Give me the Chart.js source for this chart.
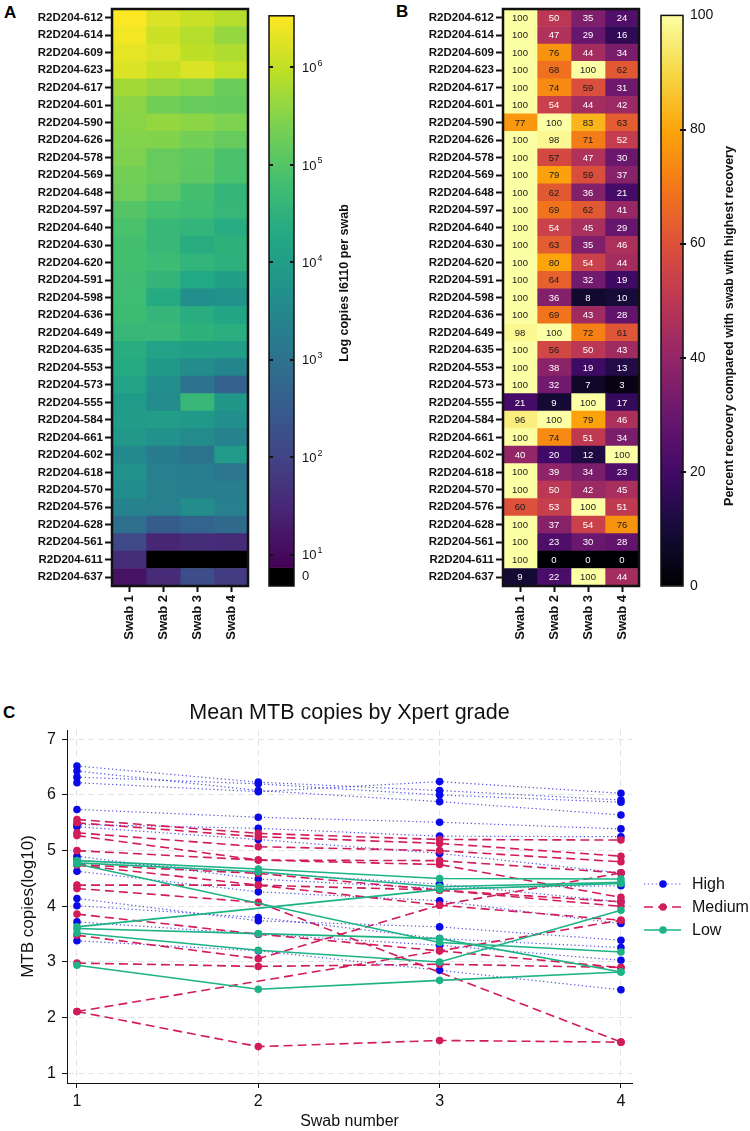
<!DOCTYPE html>
<html>
<head>
<meta charset="utf-8">
<script src="https://cdn.jsdelivr.net/npm/chart.js@4.4.1/dist/chart.umd.min.js"></script>
<style>
  body { margin: 0; background: #fff; font-family: "Liberation Sans", Arial, sans-serif; }
  #page { position: relative; width: 750px; height: 1131px; overflow: hidden; }
  .box { position: absolute; }
  .tag { position: absolute; font-weight: bold; font-size: 17px; color: #000; line-height: 20px; }
</style>
</head>
<body>
<div id="page">
  <div class="tag" style="left:4px;top:3px">A</div>
  <div class="tag" style="left:396px;top:2px">B</div>
  <div class="tag" style="left:3px;top:703px">C</div>
  <div class="box" style="left:0;top:0;width:255px;height:655px"><canvas id="heatA"></canvas></div>
  <div class="box" style="left:255px;top:0;width:115px;height:655px"><canvas id="barA"></canvas></div>
  <div class="box" style="left:370px;top:0;width:275px;height:655px"><canvas id="heatB"></canvas></div>
  <div class="box" style="left:645px;top:0;width:105px;height:655px"><canvas id="barB"></canvas></div>
  <div class="box" style="left:0;top:660px;width:750px;height:471px"><canvas id="lineC"></canvas></div>
</div>
<script>
// ---- data: panels A and B (one entry per participant, top to bottom) ----
const rowLabels = ['R2D204-612', 'R2D204-614', 'R2D204-609', 'R2D204-623', 'R2D204-617', 'R2D204-601',
  'R2D204-590', 'R2D204-626', 'R2D204-578', 'R2D204-569', 'R2D204-648', 'R2D204-597', 'R2D204-640',
  'R2D204-630', 'R2D204-620', 'R2D204-591', 'R2D204-598', 'R2D204-636', 'R2D204-649', 'R2D204-635',
  'R2D204-553', 'R2D204-573', 'R2D204-555', 'R2D204-584', 'R2D204-661', 'R2D204-602', 'R2D204-618',
  'R2D204-570', 'R2D204-576', 'R2D204-628', 'R2D204-561', 'R2D204-611', 'R2D204-637'];
const swabLabels = ['Swab 1', 'Swab 2', 'Swab 3', 'Swab 4'];

// log10 copies per swab (0 = nothing detected)
const swab1Log = [6.52, 6.43, 6.32, 6.22, 5.74, 5.56, 5.51, 5.47, 5.43, 5.32, 5.27, 5.00, 4.90, 4.83, 4.82, 4.76, 4.75,
  4.74, 4.62, 4.38, 4.32, 4.14, 3.94, 3.98, 3.86, 3.53, 3.72, 3.63, 3.38, 2.94, 2.11, 1.60, 1.15];
const swab2Log = [6.22, 6.10, 6.20, 6.05, 5.61, 5.29, 5.62, 5.46, 5.19, 5.22, 5.06, 4.84, 4.63, 4.63, 4.72, 4.57, 4.31,
  4.58, 4.63, 4.13, 3.90, 3.65, 3.57, 4.00, 3.73, 3.23, 3.31, 3.33, 3.32, 2.51, 1.47, 0, 1.54];
const swab3Log = [6.06, 5.89, 5.96, 6.22, 5.51, 5.20, 5.54, 5.32, 5.10, 5.09, 4.83, 4.79, 4.55, 4.37, 4.55, 4.27, 3.65,
  4.37, 4.49, 4.08, 3.60, 2.99, 4.62, 3.90, 3.57, 3.01, 3.25, 3.25, 3.60, 2.67, 1.59, 0, 2.20];
const swab4Log = [5.90, 5.63, 5.85, 6.01, 5.23, 5.18, 5.42, 5.19, 4.91, 4.89, 4.59, 4.61, 4.36, 4.49, 4.46, 4.04, 3.75,
  4.19, 4.42, 4.01, 3.43, 2.62, 3.85, 3.66, 3.39, 3.93, 3.08, 3.28, 3.31, 2.82, 1.56, 0, 1.84];

// percent recovery vs best swab
const swab1Pct = [100, 100, 100, 100, 100, 100, 77, 100, 100, 100, 100, 100, 100, 100, 100, 100, 100, 100, 98, 100,
  100, 100, 21, 96, 100, 40, 100, 100, 60, 100, 100, 100, 9];
const swab2Pct = [50, 47, 76, 68, 74, 54, 100, 98, 57, 79, 62, 69, 54, 63, 80, 64, 36, 69, 100, 56,
  38, 32, 9, 100, 74, 20, 39, 50, 53, 37, 23, 0, 22];
const swab3Pct = [35, 29, 44, 100, 59, 44, 83, 71, 47, 59, 36, 62, 45, 35, 54, 32, 8, 43, 72, 50,
  19, 7, 100, 79, 51, 12, 34, 42, 100, 54, 30, 0, 100];
const swab4Pct = [24, 16, 34, 62, 31, 42, 63, 52, 30, 37, 21, 41, 29, 46, 44, 19, 10, 28, 61, 43,
  13, 3, 17, 46, 34, 100, 23, 45, 51, 76, 28, 0, 44];

// colour bar ticks
const logTicks = [1, 2, 3, 4, 5, 6];
const pctTicks = [0, 20, 40, 60, 80, 100];

// ---- data: panel C (log10 copies at swabs 1-4, one line per participant) ----
const swabNumbers = [1, 2, 3, 4];
const copyTicks = [1, 2, 3, 4, 5, 6, 7];
const highLines = [
  [6.52, 6.23, 6.08, 5.91], [6.43, 6.08, 5.88, 5.64], [6.32, 6.20, 6.00, 5.87], [6.22, 6.06, 6.24, 6.03],
  [5.74, 5.60, 5.51, 5.39], [5.47, 5.40, 5.26, 5.25], [5.43, 5.20, 4.95, 4.60], [4.90, 4.49, 4.32, 4.37],
  [4.83, 4.60, 4.40, 4.08], [4.63, 4.26, 4.10, 3.69], [4.14, 3.74, 3.63, 3.39], [4.01, 3.80, 3.42, 3.26],
  [3.72, 3.50, 3.30, 3.03], [3.38, 3.20, 2.85, 2.50]
];
const mediumLines = [
  [5.56, 5.31, 5.20, 5.19], [5.50, 5.25, 5.13, 4.90], [5.32, 5.07, 5.00, 4.80], [5.27, 4.83, 4.82, 4.60],
  [5.00, 4.83, 4.75, 4.16], [4.75, 4.59, 4.29, 4.08], [4.74, 4.38, 4.02, 3.75], [4.38, 4.38, 4.29, 4.00],
  [4.32, 4.07, null, 1.56], [3.86, 3.50, 3.20, 2.90], [3.48, 3.06, 4.02, 4.60], [2.98, 2.92, 2.96, 2.90],
  [2.11, 1.48, 1.59, 1.56], [2.11, null, 3.20, 3.75]
];
const lowLines = [
  [4.82, 4.67, 4.50, 4.49], [4.78, 4.62, 4.35, 4.43], [4.76, null, 3.35, 3.18], [3.63, null, 4.30, 4.41],
  [3.60, 3.51, 3.42, 2.82], [3.52, 3.21, 3.00, 3.93], [2.94, 2.51, 2.67, 2.82]
];

// ---- colour maps ----
const viridis = ['#440154', '#482475', '#414487', '#355f8d', '#2a788e', '#21918c', '#22a884', '#44bf70', '#7ad151', '#bddf26', '#fde725'];
const inferno = ['#000004', '#160b39', '#420a68', '#6a176e', '#932667', '#bc3754', '#dd513a', '#f37819', '#fca50a', '#f6d746', '#fcffa4'];
const LOG_MIN = 0.87, LOG_MAX = 6.53; // ends of the viridis bar

function hexRgb(h) {
  return [parseInt(h.slice(1, 3), 16), parseInt(h.slice(3, 5), 16), parseInt(h.slice(5, 7), 16)];
}
function mapColor(stops, t) {
  t = Math.max(0, Math.min(1, t));
  const n = stops.length - 1;
  const p = t * n;
  const i = Math.min(Math.floor(p), n - 1);
  const f = p - i;
  const a = hexRgb(stops[i]), b = hexRgb(stops[i + 1]);
  return 'rgb(' + a.map((c, k) => Math.round(c + (b[k] - c) * f)).join(',') + ')';
}
const logColor = v => v <= 0 ? '#000' : mapColor(viridis, (v - LOG_MIN) / (LOG_MAX - LOG_MIN));
const pctColor = v => mapColor(inferno, v / 100);

const FONT = '"Liberation Sans", Arial, Helvetica, sans-serif';
Chart.defaults.font.family = FONT;
Chart.defaults.color = '#111';
Chart.defaults.animation = false;

// black frame round the plot area
const framePlugin = {
  id: 'frame',
  afterDraw(chart, args, opts) {
    const { ctx, chartArea: a } = chart;
    ctx.save();
    ctx.strokeStyle = '#111';
    ctx.lineWidth = opts.width || 2.5;
    ctx.strokeRect(a.left, a.top, a.right - a.left, a.bottom - a.top);
    ctx.restore();
  }
};

function rotatedText(ctx, text, x, y, font) {
  ctx.save();
  ctx.translate(x, y);
  ctx.rotate(-Math.PI / 2);
  ctx.font = font;
  ctx.fillStyle = '#111';
  ctx.textAlign = 'center';
  ctx.textBaseline = 'middle';
  ctx.fillText(text, 0, 0);
  ctx.restore();
}

// ---- heatmaps (floating horizontal bars, one dataset per swab) ----
function heatChart(id, colors, yWidth, padRight, extraPlugins) {
  return new Chart(document.getElementById(id), {
    type: 'bar',
    data: {
      labels: rowLabels,
      datasets: swabLabels.map((s, i) => ({
        label: s,
        data: rowLabels.map(() => [i, i + 1]),
        backgroundColor: colors[i],
        borderWidth: 0,
        barPercentage: 1,
        categoryPercentage: 1,
        grouped: false
      }))
    },
    options: {
      indexAxis: 'y',
      responsive: true,
      maintainAspectRatio: false,
      layout: { padding: { top: 9, right: padRight, left: 0, bottom: 0 } },
      plugins: { legend: { display: false }, tooltip: { enabled: false }, frame: { width: 2.5 } },
      scales: {
        x: {
          type: 'linear', min: 0, max: 4,
          afterBuildTicks: s => { s.ticks = [0.5, 1.5, 2.5, 3.5].map(v => ({ value: v })); },
          ticks: { callback: (v, i) => swabLabels[i], minRotation: 90, maxRotation: 90, padding: 3,
            font: { size: 13, weight: 'bold' }, color: '#111' },
          grid: { drawOnChartArea: false, tickLength: 6, tickWidth: 2, tickColor: '#111' },
          border: { display: false },
          afterFit: s => { s.height = 69; }
        },
        y: {
          ticks: { font: { size: 11.5, weight: 'bold' }, color: '#111', padding: 2, autoSkip: false },
          grid: { drawOnChartArea: false, offset: false, tickLength: 7, tickWidth: 2, tickColor: '#111' },
          border: { display: false },
          afterFit: s => { s.width = yWidth; }
        }
      }
    },
    plugins: [framePlugin].concat(extraPlugins || [])
  });
}

heatChart('heatA', [swab1Log, swab2Log, swab3Log, swab4Log].map(a => a.map(logColor)), 112, 7);

const pctTable = [swab1Pct, swab2Pct, swab3Pct, swab4Pct];
const cellText = {
  id: 'cellText',
  afterDatasetsDraw(chart) {
    const ctx = chart.ctx;
    ctx.save();
    ctx.font = '9.5px ' + FONT;
    ctx.textAlign = 'center';
    ctx.textBaseline = 'middle';
    pctTable.forEach((col, i) => {
      chart.getDatasetMeta(i).data.forEach((bar, r) => {
        ctx.fillStyle = col[r] >= 55 ? '#1a1a1a' : '#ffffff';
        ctx.fillText(String(col[r]), (bar.x + bar.base) / 2, bar.y + 0.5);
      });
    });
    ctx.restore();
  }
};
heatChart('heatB', pctTable.map(a => a.map(pctColor)), 133, 6, [cellText]);

// ---- colour bars ----
function gradientFill(stops, from, to) {
  return ctx => {
    const chart = ctx.chart;
    const y = chart.scales.y;
    if (!chart.chartArea || !y) return stops[stops.length - 1];
    const g = chart.ctx.createLinearGradient(0, y.getPixelForValue(from), 0, y.getPixelForValue(to));
    stops.forEach((c, i) => g.addColorStop(i / (stops.length - 1), c));
    return g;
  };
}

function colorBar(id, cfg) {
  const marks = {
    id: 'marks',
    afterDraw(chart) {
      const { ctx, chartArea: a } = chart;
      const y = chart.scales.y;
      ctx.save();
      ctx.strokeStyle = '#111';
      ctx.lineWidth = 1.5;
      ctx.strokeRect(a.left, a.top, a.right - a.left, a.bottom - a.top);
      ctx.lineWidth = 2;
      cfg.markAt.forEach(v => {
        const py = Math.round(y.getPixelForValue(v));
        ctx.beginPath();
        cfg.marks.forEach(([x0, x1]) => { ctx.moveTo(a.left + x0, py); ctx.lineTo(a.left + x1, py); });
        ctx.stroke();
      });
      // powers of ten: draw the exponent small and raised
      if (cfg.powers) {
        ctx.fillStyle = '#111';
        ctx.textBaseline = 'middle';
        cfg.powers.forEach(p => {
          const py = y.getPixelForValue(p);
          const x = a.right + cfg.pad;
          ctx.font = cfg.fontSize + 'px ' + FONT;
          ctx.fillText('10', x, py + 1);
          const w = ctx.measureText('10').width;
          ctx.font = (cfg.fontSize * 0.68) + 'px ' + FONT;
          ctx.fillText(String(p), x + w + 1, py - 4);
        });
      }
      ctx.restore();
      rotatedText(ctx, cfg.title, cfg.titleX, cfg.titleY, 'bold 12.5px ' + FONT);
    }
  };
  return new Chart(document.getElementById(id), {
    type: 'bar',
    data: {
      labels: [''],
      datasets: cfg.segments.map(s => ({
        data: [[s.from, s.to]], backgroundColor: s.fill, borderWidth: 0,
        barPercentage: 1, categoryPercentage: 1, grouped: false
      }))
    },
    options: {
      responsive: true,
      maintainAspectRatio: false,
      layout: { padding: { top: 9, bottom: 69, left: cfg.left, right: 0 } },
      plugins: { legend: { display: false }, tooltip: { enabled: false } },
      scales: {
        x: { display: false },
        y: {
          position: 'right', min: cfg.min, max: cfg.max,
          afterBuildTicks: s => { s.ticks = cfg.tickAt.map(v => ({ value: v })); },
          ticks: { callback: cfg.tickText, padding: cfg.pad, font: { size: cfg.fontSize }, color: '#111' },
          grid: { drawOnChartArea: false, drawTicks: false },
          border: { display: false },
          afterFit: s => { s.width = cfg.axisWidth; }
        }
      }
    },
    plugins: [marks]
  });
}

colorBar('barA', {
  left: 14, axisWidth: 76, min: 0.68, max: LOG_MAX,
  segments: [
    { from: LOG_MIN, to: LOG_MAX, fill: gradientFill(viridis, LOG_MIN, LOG_MAX) },
    { from: 0.68, to: LOG_MIN, fill: '#000' }
  ],
  tickAt: [0.775],
  tickText: () => '0',
  powers: logTicks,
  markAt: logTicks,
  marks: [[0, 4], [21, 25]],
  pad: 8, fontSize: 13,
  title: 'Log copies I6110 per swab', titleX: 90, titleY: 283
});

colorBar('barB', {
  left: 16, axisWidth: 67, min: 0, max: 100,
  segments: [{ from: 0, to: 100, fill: gradientFill(inferno, 0, 100) }],
  tickAt: pctTicks,
  tickText: v => String(v),
  markAt: pctTicks.slice(1, -1),
  marks: [[19, 25]],
  pad: 7, fontSize: 14,
  title: 'Percent recovery compared with swab with highest recovery', titleX: 85, titleY: 326
});

// ---- panel C: lines by Xpert grade ----
const grades = [
  { name: 'Low', lines: lowLines, point: '#1db386', line: '#1db386', dash: [], width: 1.6 },
  { name: 'Medium', lines: mediumLines, point: '#d21b5a', line: '#d21b5a', dash: [9, 5], width: 1.6 },
  { name: 'High', lines: highLines, point: '#0a0ae8', line: 'rgba(45,45,215,0.8)', dash: [1.3, 2.6], width: 1.2 }
];

const datasets = [];
grades.forEach(g => {
  g.lines.forEach(vals => {
    datasets.push({
      label: g.name,
      data: vals.map((v, i) => ({ x: swabNumbers[i], y: v })),
      borderColor: g.line,
      borderDash: g.dash,
      borderWidth: g.width,
      pointRadius: 3.8,
      pointBackgroundColor: g.point,
      pointBorderWidth: 0,
      spanGaps: true,
      tension: 0
    });
  });
});

const legendOrder = ['High', 'Medium', 'Low'];
const sideLegend = {
  id: 'sideLegend',
  afterDraw(chart) {
    const ctx = chart.ctx;
    ctx.save();
    ctx.font = '16px ' + FONT;
    ctx.textBaseline = 'middle';
    legendOrder.forEach((name, k) => {
      const g = grades.find(d => d.name === name);
      const y = 224 + k * 23;
      ctx.strokeStyle = g.line;
      ctx.lineWidth = g.width;
      ctx.setLineDash(g.dash);
      ctx.beginPath();
      ctx.moveTo(644, y);
      ctx.lineTo(681, y);
      ctx.stroke();
      ctx.setLineDash([]);
      ctx.fillStyle = g.point;
      ctx.beginPath();
      ctx.arc(663, y, 3.8, 0, Math.PI * 2);
      ctx.fill();
      ctx.fillStyle = '#111';
      ctx.fillText(name, 692, y + 1);
    });
    const a = chart.chartArea;
    ctx.font = '21.5px ' + FONT;
    ctx.textAlign = 'center';
    ctx.fillText('Mean MTB copies by Xpert grade', (a.left + a.right) / 2, 53);
    ctx.restore();
  }
};

new Chart(document.getElementById('lineC'), {
  type: 'line',
  data: { datasets },
  options: {
    responsive: true,
    maintainAspectRatio: false,
    layout: { padding: { top: 70, right: 118, left: 0, bottom: 0 } },
    plugins: { legend: { display: false }, tooltip: { enabled: false } },
    scales: {
      x: {
        type: 'linear', min: 0.945, max: 4.061,
        afterBuildTicks: s => { s.ticks = swabNumbers.map(v => ({ value: v })); },
        ticks: { font: { size: 16 }, padding: 4, color: '#111' },
        grid: { color: '#e3e3e3', tickColor: '#111', tickLength: 5 },
        border: { color: '#111', width: 1, dash: [6, 4] },
        title: { display: true, text: 'Swab number', font: { size: 16 }, padding: { top: 0, bottom: 0 }, color: '#111' },
        afterFit: s => { s.height = 48; }
      },
      y: {
        min: 0.826, max: 7.167,
        afterBuildTicks: s => { s.ticks = copyTicks.map(v => ({ value: v })); },
        ticks: { font: { size: 16 }, padding: 6, color: '#111' },
        grid: { color: '#e3e3e3', tickColor: '#111', tickLength: 5 },
        border: { color: '#111', width: 1, dash: [6, 4] },
        title: { display: true, text: 'MTB copies(log10)', font: { size: 17 }, padding: { top: 18, bottom: 0 }, color: '#111' },
        afterFit: s => { s.width = 67; }
      }
    }
  },
  plugins: [sideLegend]
});
</script>
</body>
</html>
